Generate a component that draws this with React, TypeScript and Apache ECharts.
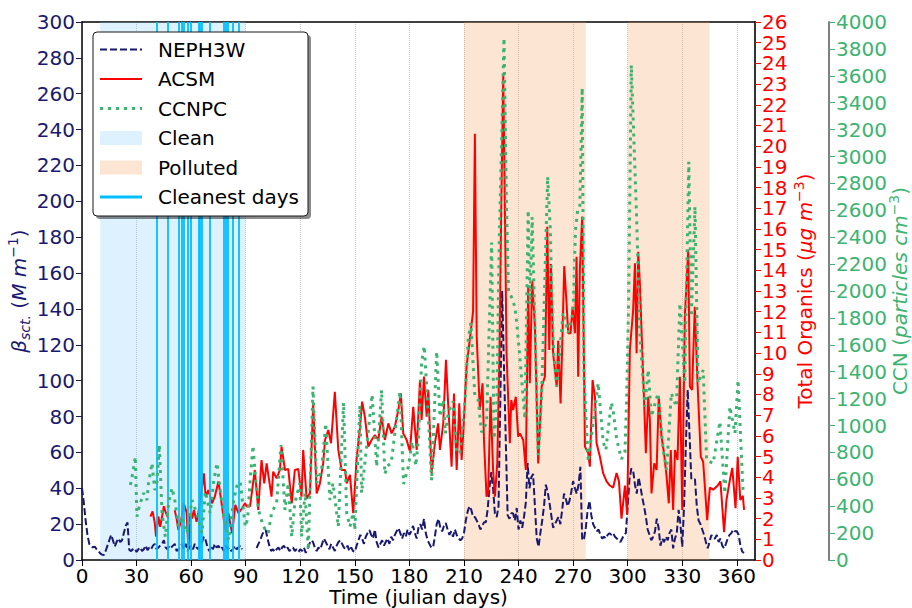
import React, { useEffect, useRef } from "react";
import * as echarts from "echarts";

const FONT = "DejaVu Sans";
const NAVY = "#191970";
const RED = "#ff0000";
const GREEN = "#3cb371";
const SKY = "#00bfff";
const CLEAN_FILL = "rgba(135,206,250,0.28)";
const POLL_FILL = "rgba(244,164,96,0.28)";

// NEPH3W daily scattering (Mm-1), day 0 .. 364, null = no data
const nephStartDay = 0;
const nephVals: (number | null)[] = [
  40, 32, 22, 14, 9, 7.5, 7, 7.5, 6, 5,
  3.7, 3, 2.8, 5, 8, 11, 14, 11, 7.5, 10,
  12, 10, 11, 15, 19, 21, 5.6, 5, 6, 6.5,
  4.5, 6, 7, 5, 6, 8, 5.5, 7, 6, 8,
  9, 6, 7, 8, 9, 11, 7, 6, 8, 7,
  8, 9, 5, 6, 7, 9, 6, 9, 5, 7,
  8, 6, 9, 7, 6, 8, 10, 13, 11, 7,
  5, 8, 6, 9, 7, 8, 6, 7, 5, 8,
  6, 7, 5, 6, 8, 6, 7, 8, 6,
  null, null, null, null, null, null, null,
  6.7, 9, 11, 14,
  16, 16.7, 12, 8, 5, 6, 4.5, 6, 7, 5,
  7, 8, 6, 7, 5, 6, 7, 5, 6, 4.5,
  6, 5, 7, 4, 6, 9, 11, 10, 7, 5,
  7, 6, 9, 12, 10, 8, 6, 9, 7, 5,
  8, 10, 11, 9, 7, 6, 8, 5, 7, 5,
  4.6, 8, 11, 14, 12, 9, 13, 15, 16.7, 14,
  12, 17, 10, 7, 9, 11, 8, 10, 12, 9,
  13, 11, 14, 16, 17.8, 15, 12, 15, 13, 17,
  14, 16, 19, 15, 12, 18, 20, 17, 23, 15,
  11, 9, 7, 7, 13, 20, 23, 18, 16, 19,
  20.6, 17, 14, 16, 13, 17, 14, 12, 11, 12,
  15, 22, 27, 30, 28, 24, 24, 22, 20, 17,
  19, 21, 21, 28, 40, 49, 40, 26, 24, 30,
  90, 150, 108, 66, 25, 23, 26, 26, 22, 29,
  17, 22, 18, 24, 32, 54, 40, 46, 48, 30,
  12, 7.4, 15, 22, 30, 42, 38, 32, 25, 18,
  20, 22, 24, 20, 28, 37, 34, 30, 33, 38,
  44, 40, 37, 42, 52, 11, 12, 18, 28, 33,
  25, 20, 18, 16, 17, 14, 12, 13, 12, 14,
  15, 14, 15, 13, 12, 11, 10, 12, 14, 15,
  30, 45, 51, 50, 42, 37, 46, 41, 35, 30,
  24, 17, 14, 11, 13, 16, 23, 18, 8, 12,
  10, 13, 11, 15, 17, 6.5, 12, 15, 28, 20,
  7.4, 30, 65, 95, 70, 45, 45, 45, 30, 22,
  20, 17, 14, 10, 6.5, 10, 14, 12, 12, 14,
  10, 12, 8, 6.5, 9, 12, 14, 15, 17, 16,
  16, 14, 8, 4.6, 4,
];

// ACSM total organics (ug m-3)
const acsmDays = [
  37.6, 38.8, 40, 40.7, 42, 43, 45, 46, 47.5, 49, 51, 52, 53, 54.5, 56, 57.5, 58.5, 59.5, 60.5, 61.5,
  63, 64, 65, 66, 67, 68, 69.5, 71.5, 73, 75, 76.5, 78, 79, 80.5, 82.5, 84.3, 86, 88, 89.6, 90.7,
  92.4, 95, 96.9, 98.7, 100.2, 101.5, 104.2, 105.1, 107, 108.8, 109.7, 111.6, 113.4, 115.3, 117, 118.9, 120.7, 121.6, 123.5, 125.3,
  127.1, 129, 130.8, 132.6, 133.6, 135.4, 136.9, 139, 140.9, 142.7, 144.6, 145.5, 147.3, 149.1, 151, 152.8, 154, 155.5, 157.4, 159.2,
  161, 162.9, 164.7, 166.5, 168.4, 170.2, 172, 173.9, 175.3, 176.6, 178.5, 180.3, 182.1, 184, 185.8, 186.7, 188, 189.5, 190.4, 192.2,
  194, 195.8, 196.8, 198.6, 200.1, 201.3, 203.2, 204.5, 206, 207.4, 208.7, 209.6, 211.4, 213, 215, 216, 217, 218.7, 220.2, 221,
  222.4, 223.3, 224.6, 226, 227, 228.3, 229.5, 230.5, 231.6, 232.5, 233.4, 235.2, 236, 237, 238.5, 239.8, 240.7, 242.6, 244, 245.3,
  246.2, 247.5, 249, 250.8, 252.7, 254.5, 255.8, 256.9, 257.8, 259, 261, 261.8, 263.1, 264, 265.1, 266.4, 267.3, 268.6, 269.7, 271,
  271.9, 272.8, 273.7, 275, 275.9, 276.5, 278.3, 279.2, 280.7, 282, 282.9, 284.7, 286.5, 288.4, 290.2, 292, 293.9, 295.2, 296.6, 298.5,
  299.7, 301.2, 303, 304, 304.9, 305.8, 306.7, 308, 309, 310, 311.3, 312.2, 313.1, 314.6, 315.9, 317.1, 318.6, 320, 321.4, 322.6,
  323.7, 325, 326, 327.4, 328.7, 330, 331.4, 333.3, 334.2, 335.4, 336.9, 338.4, 340.2, 341.5, 343.7, 345.2, 347, 349.5, 351, 353,
  354.3, 356.2, 357.5, 359.3, 360.5, 361.9, 363.3, 364,
];
const acsmVals: (number | null)[] = [
  2.1, 2.35, 1.8, 1.13, 2.1, 1.6, 2.6, 2.3, 2.0, null, 2.4, 2.0, 1.45, 1.9, 2.74, 2.3, 0.5, 2.26, 2.0, 2.42,
  1.85, 2.3, 2.9, 3.5, 4.19, 3.06, 3.38, 2.74, 3.06, 3.8, 2.9, 1.93, 1.45, 2.26, 1.29, 2.66, 2.26, 2.5, 2.74, 2.58,
  2.6, 4.35, 2.42, 4.83, 3.7, 4.67, 3.06, 4.27, 3.95, 4.35, 5.48, 4.35, 4.4, 2.74, 4.35, 4.4, 3.06, 5.32, 2.98, 3.22,
  7.57, 3.22, 3.7, 4.67, 5.8, 6.28, 5.64, 8.13, 5.32, 4.35, 4.35, 3.7, 4.11, 2.26, 4.91, 6.36, 7.65, 6.93, 5.48, 5.8,
  6.04, 5.8, 6.93, 5.8, 6.6, 6.12, 6.44, 7.25, 8.05, 6.12, 5.8, 5.24, 7.4, 5.32, 8.7, 6.77, 8.86, 6.93, 8.22, 4.19,
  5.64, 6.6, 5.32, 6.6, 9.67, 7.57, 4.51, 8.05, 4.35, 7.57, 4.83, 6.12, 9.34, 10.5, 12, 20.6, 10.8, 7.25, 8.54, 5.8,
  3.06, 3.22, 7.89, 4.35, 3.06, 4.67, 10, 17, 23.4, 17, 10, 5.64, 7.73, 7.25, 7.89, 5.96, 6.12, 5.8, 4.35, 13.2,
  8.54, 13.5, 11.3, 4.67, 8.38, 8.86, 16.1, 10.15, 14.3, 9.99, 8.38, 10.6, 7.57, 10.3, 14.2, 12.4, 10.96, 10.96, 12.24, 10.96,
  14.66, 8.86, 14.02, 16.6, 9.99, 5.48, 5.16, 4.51, 8.7, 7.89, 5.64, 5.0, 4.2, 3.8, 3.6, 3.5, 4.2, 3.8, 2.0, 3.6,
  2.2, 10.15, 12.08, 14.34, 9.99, 14.9, 13.37, 10.15, 7.73, 5.16, 7.89, 6.77, 3.22, 4.67, 4.35, 7.89, 5.96, 5.16, 4.03, 2.74,
  5.32, 2.42, 5.32, 4.83, 8.86, 2.42, 11.76, 14.98, 8.38, 8.22, 12.24, 8.54, 4.99, 4.75, 1.93, 3.5, 3.4, 3.6, 3.8, 1.35,
  2.9, 3.87, 4.45, 2.5, 4.99, 2.9, 3.1, 2.42,
];

// CCNPC concentration (particles cm-3)
const ccnDays = [
  26.6, 28, 29.3, 30.2, 31.5, 33.9, 35.7, 36.6, 37.5, 38.5, 40, 41.2, 42.5, 44, 45.8, 47.6, 49.5, 51, 53, 55,
  57.7, 60.5, 63, 66, 67.8, 70.5, 72.4, 74.2, 76, 77.9, 80.6, 83.4, 85, 87, 88.5, 89.8, 91, 92.5, 94, 95.5,
  97, 99.7, 102.4, 104.2, 107, 109.4, 111.6, 113.4, 115.3, 117, 119.8, 120.7, 122.6, 124.4, 127, 129, 131.7, 134, 136.3, 138,
  140.9, 143.8, 145.5, 147.3, 149, 150, 152.8, 153.7, 156.5, 159.5, 162, 164.7, 166.5, 168, 170, 174.8, 176.8, 179.4, 181.5, 183.5,
  185, 186.7, 188.2, 190.4, 192.2, 195, 196.8, 198.6, 199.8, 201.3, 204, 206, 207.8, 210.5, 212.3, 213.8, 216, 217.8, 219.7, 222.4,
  225.2, 226.5, 228, 229.4, 231, 232, 233.4, 234.5, 236, 238, 239, 240.7, 243.5, 245.3, 246.3, 247.5, 249, 250.8, 252.7, 253.6,
  256, 257.5, 258.5, 259.5, 261, 264.5, 267.3, 270, 271.3, 272.5, 273.7, 275, 276, 278.3, 283.8, 286.5, 288, 291, 292, 293.9,
  296.6, 298.5, 299.4, 300.5, 302, 304.9, 306.7, 309.4, 311.3, 313, 316.7, 319.5, 321.4, 324, 326.8, 328.7, 331.4, 333.6, 335, 337,
  338.7, 341.5, 343.4, 347, 350.7, 353.4, 356.2, 359, 360.7, 362.6, 363.5,
];
const ccnVals = [
  558, 650, 768, 322, 400, 498, 446, 572, 640, 721, 520, 582, 855, 349, 173, 424, 535, 446, 248, 322,
  200, 446, 349, 200, 508, 349, 582, 721, 520, 322, 149, 446, 545, 582, 400, 248, 300, 600, 850, 600,
  372, 248, 200, 349, 424, 855, 372, 572, 173, 424, 572, 173, 498, 74, 1289, 572, 669, 1016, 446, 572,
  248, 1170, 350, 248, 349, 223, 1150, 498, 842, 1230, 694, 1264, 640, 700, 721, 1251, 565, 694, 880, 700,
  900, 1474, 1590, 1066, 590, 1550, 1066, 1190, 942, 1091, 1180, 793, 800, 1165, 1636, 1762, 1214, 1190, 950, 1016,
  2360, 900, 1100, 2380, 3300, 3880, 2600, 2000, 1958, 1883, 1762, 1512, 1050, 2600, 1900, 2550, 1740, 780, 1230, 1660,
  2850, 2450, 1800, 1500, 1290, 1840, 1690, 1840, 2450, 2600, 2620, 3510, 1360, 730, 1314, 880, 818, 1170, 1115, 900,
  750, 800, 1190, 1900, 3680, 2552, 1685, 1140, 1413, 1066, 1239, 818, 669, 1239, 1140, 1908, 1314, 2961, 1809, 2627,
  1314, 1413, 743, 719, 1028, 496, 1140, 942, 1338, 758, 496,
];

const cleanPeriod = [10, 90];
const pollutedPeriods = [
  [210, 277],
  [300, 345],
];
const cleanestDays = [41, 47, 53, 55, 56, 58, 60, 64, 65, 66, 70, 78, 79, 80, 83, 86];

const legendItems = ["NEPH3W", "ACSM", "CCNPC", "Clean", "Polluted", "Cleanest days"];

function rich(color: string) {
  return {
    n: { fontFamily: FONT, fontSize: 20, color, lineHeight: 26 },
    i: { fontFamily: FONT, fontSize: 20, color, fontStyle: "italic", lineHeight: 26 },
    s: { fontFamily: FONT, fontSize: 14, color, fontStyle: "italic", lineHeight: 14, verticalAlign: "bottom" },
    p: { fontFamily: FONT, fontSize: 14, color, lineHeight: 14, verticalAlign: "top" },
  };
}

function toPairs(days: number[], vals: (number | null)[]) {
  return days.map((d, k) => [d, vals[k] === null ? "-" : vals[k]]);
}

export default function App() {
  const ref = useRef<HTMLDivElement>(null);
  useEffect(() => {
    if (!ref.current) return;
    const chart = echarts.init(ref.current, undefined, { renderer: "svg" });

    const nephData = nephVals.map((v, k) => [nephStartDay + k, v === null ? "-" : v]);
    const acsmData = toPairs(acsmDays, acsmVals);
    const ccnData = toPairs(ccnDays, ccnVals);

    const areas: any[] = [
      [{ xAxis: cleanPeriod[0], itemStyle: { color: CLEAN_FILL } }, { xAxis: cleanPeriod[1] }],
      ...pollutedPeriods.map((p) => [{ xAxis: p[0], itemStyle: { color: POLL_FILL } }, { xAxis: p[1] }]),
    ];

    const LX = 93, LY = 32, LW = 215, LH = 184;
    const rowY = (k: number) => LY + 17.5 + k * 29.5;
    const hx0 = 100, hx1 = 142;
    const graphics: any[] = [
      { type: "rect", shape: { x: LX + 3, y: LY + 3, width: LW, height: LH, r: 4 }, style: { fill: "rgba(0,0,0,0.45)" }, z: 100 },
      { type: "rect", shape: { x: LX, y: LY, width: LW, height: LH, r: 4 }, style: { fill: "#ffffff", stroke: "#1a1a1a", lineWidth: 1 }, z: 101 },
      { type: "line", shape: { x1: hx0, y1: rowY(0), x2: hx1, y2: rowY(0) }, style: { stroke: NAVY, lineWidth: 2, lineDash: [7, 3] }, z: 102 },
      { type: "line", shape: { x1: hx0, y1: rowY(1), x2: hx1, y2: rowY(1) }, style: { stroke: RED, lineWidth: 2 }, z: 102 },
      { type: "line", shape: { x1: hx0, y1: rowY(2), x2: hx1, y2: rowY(2) }, style: { stroke: GREEN, lineWidth: 3, lineDash: [3, 5] }, z: 102 },
      { type: "rect", shape: { x: hx0, y: rowY(3) - 7, width: hx1 - hx0, height: 14 }, style: { fill: CLEAN_FILL }, z: 102 },
      { type: "rect", shape: { x: hx0, y: rowY(4) - 7, width: hx1 - hx0, height: 14 }, style: { fill: POLL_FILL }, z: 102 },
      { type: "line", shape: { x1: hx0, y1: rowY(5), x2: hx1, y2: rowY(5) }, style: { stroke: SKY, lineWidth: 3 }, z: 102 },
      ...legendItems.map((t, k) => ({
        type: "text",
        x: 158,
        y: rowY(k),
        style: { text: t, fontFamily: FONT, fontSize: 20, fill: "#000", verticalAlign: "middle", align: "left" },
        z: 103,
      })),
    ];

    const plain = (v: number) => String(v);

    const option: any = {
      animation: false,
      backgroundColor: "#ffffff",
      grid: { left: 82, top: 22, right: 157, bottom: 48, containLabel: false, outerBoundsMode: "none" },
      xAxis: [
        {
          type: "value",
          min: 0,
          max: 370,
          interval: 30,
          name: "Time (julian days)",
          nameLocation: "middle",
          nameGap: 27,
          nameMoveOverlap: false,
          nameTextStyle: { fontFamily: FONT, fontSize: 20, color: "#000", lineHeight: 20 },
          axisLine: { show: true, onZero: false, lineStyle: { color: "#000", width: 1.5 } },
          axisTick: { show: true, length: 6, inside: false, lineStyle: { color: "#000", width: 1 } },
          axisLabel: { fontFamily: FONT, fontSize: 20, color: "#000", margin: 7, lineHeight: 18, showMaxLabel: false, formatter: plain },
          splitLine: { show: true, lineStyle: { color: "#c8c8c8", type: "dotted", width: 1 } },
        },
        {
          type: "value",
          position: "top",
          min: 0,
          max: 370,
          axisLine: { show: true, onZero: false, lineStyle: { color: "#000", width: 1.5 } },
          axisTick: { show: false },
          axisLabel: { show: false },
          splitLine: { show: false },
        },
      ],
      yAxis: [
        {
          type: "value",
          position: "left",
          min: 0,
          max: 300,
          interval: 20,
          name: "{i|β}{s|sct.}{n| (}{i|M m}{p|−1}{n|)}",
          nameLocation: "middle",
          nameRotate: 90,
          nameGap: 50,
          nameMoveOverlap: false,
          nameTextStyle: { rich: rich(NAVY) },
          axisLine: { show: true, onZero: false, lineStyle: { color: "#000", width: 1.5 } },
          axisTick: { show: true, length: 6, lineStyle: { color: "#1a1a50", width: 1 } },
          axisLabel: { fontFamily: FONT, fontSize: 20, color: NAVY, margin: 7, lineHeight: 20, formatter: plain },
          splitLine: { show: false },
        },
        {
          type: "value",
          position: "right",
          offset: 0,
          min: 0,
          max: 26,
          interval: 1,
          name: "{n|Total Organics (}{i|μg m}{p|−3}{n|)}",
          nameLocation: "middle",
          nameRotate: 90,
          nameGap: 37,
          nameMoveOverlap: false,
          nameTextStyle: { rich: rich(RED) },
          axisLine: { show: true, onZero: false, lineStyle: { color: "#333", width: 2 } },
          axisTick: { show: true, length: 6, lineStyle: { color: RED, width: 1 } },
          axisLabel: { fontFamily: FONT, fontSize: 20, color: RED, margin: 7, lineHeight: 18, formatter: plain },
          splitLine: { show: false },
        },
        {
          type: "value",
          position: "right",
          offset: 74,
          min: 0,
          max: 4000,
          interval: 200,
          name: "{n|CCN (}{i|particles cm}{p|−3}{n|)}",
          nameLocation: "middle",
          nameRotate: 90,
          nameGap: 58,
          nameMoveOverlap: false,
          nameTextStyle: { rich: rich(GREEN) },
          axisLine: { show: true, onZero: false, lineStyle: { color: "#808080", width: 2 } },
          axisTick: { show: true, length: 6, lineStyle: { color: GREEN, width: 1 } },
          axisLabel: { fontFamily: FONT, fontSize: 20, color: GREEN, margin: 7, lineHeight: 20, formatter: plain },
          splitLine: { show: false },
        },
      ],
      graphic: graphics,
      series: [
        {
          name: "periods",
          type: "line",
          xAxisIndex: 0,
          yAxisIndex: 0,
          data: [],
          z: 1,
          silent: true,
          markArea: { silent: true, data: areas },
          markLine: {
            silent: true,
            symbol: "none",
            label: { show: false },
            lineStyle: { color: SKY, width: 1.8, type: "solid" },
            data: cleanestDays.map((d) => ({ xAxis: d })),
          },
        },
        {
          name: "NEPH3W",
          type: "line",
          xAxisIndex: 0,
          yAxisIndex: 0,
          data: nephData,
          showSymbol: false,
          symbol: "none",
          connectNulls: false,
          z: 3,
          lineStyle: { color: NAVY, width: 2, type: [7, 3] },
        },
        {
          name: "ACSM",
          type: "line",
          xAxisIndex: 0,
          yAxisIndex: 1,
          data: acsmData,
          showSymbol: false,
          symbol: "none",
          connectNulls: false,
          z: 4,
          lineStyle: { color: RED, width: 2 },
        },
        {
          name: "CCNPC",
          type: "line",
          xAxisIndex: 0,
          yAxisIndex: 2,
          data: ccnData,
          showSymbol: false,
          symbol: "none",
          z: 5,
          lineStyle: { color: GREEN, width: 3, type: [3, 5], cap: "butt" },
        },
      ],
    };
    chart.setOption(option);
    return () => chart.dispose();
  }, []);
  return (
    <div
      ref={ref}
      style={{ position: "fixed", left: 0, top: 0, width: 912, height: 608, background: "#fff" }}
    />
  );
}
